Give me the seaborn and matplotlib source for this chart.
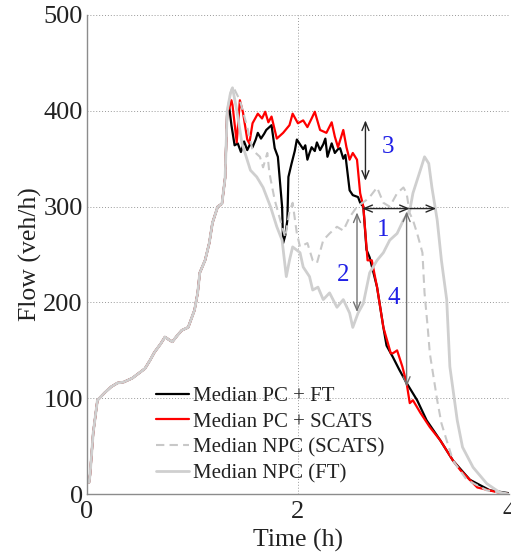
import numpy as np
import pandas as pd
import seaborn as sns
import matplotlib.pyplot as plt

# shared rising part (all four runs coincide until ~1.33 h)
rise_t = [0.02, 0.03, 0.06, 0.10, 0.17, 0.23, 0.29, 0.35, 0.39, 0.43, 0.49, 0.55, 0.60, 0.64,
          0.70, 0.74, 0.78, 0.81, 0.86, 0.90, 0.96, 1.02, 1.05, 1.07, 1.12, 1.16, 1.19, 1.24,
          1.28, 1.31, 1.33]
rise_y = [12, 20, 64, 98, 106, 112, 116, 117, 119, 121, 126, 131, 140, 148,
          157, 164, 161, 159, 166, 171, 174, 192, 210, 231, 244, 262, 283, 300,
          303, 330, 400]

# Median PC + FT
pcft_t = [1.35, 1.37, 1.40, 1.43, 1.46, 1.49, 1.52, 1.55, 1.57, 1.60, 1.62, 1.65, 1.68, 1.70,
          1.73, 1.75, 1.78, 1.81, 1.85, 1.86, 1.88, 1.90, 1.91, 1.94, 1.97, 1.99, 2.02, 2.05,
          2.07, 2.09, 2.11, 2.13, 2.16, 2.18, 2.21, 2.24, 2.26, 2.28, 2.32, 2.35, 2.38, 2.40,
          2.43, 2.45, 2.49, 2.52, 2.57, 2.59, 2.62, 2.65, 2.68, 2.75, 2.81, 2.84, 2.90, 2.96,
          3.03, 3.13, 3.22, 3.35, 3.47, 3.63, 3.82, 4.00]
pcft_y = [403, 385, 364, 366, 357, 368, 359, 366, 362, 370, 377, 371, 376, 380,
          383, 385, 361, 352, 300, 262, 270, 286, 331, 345, 358, 370, 365, 360,
          364, 349, 356, 362, 358, 367, 359, 365, 371, 352, 366, 356, 360, 361,
          350, 354, 317, 312, 310, 304, 300, 255, 247, 216, 174, 155, 143, 130,
          116, 98, 77, 56, 35, 15, 4, 1]

# Median PC + SCATS
pcsc_t = [1.35, 1.37, 1.38, 1.42, 1.45, 1.48, 1.52, 1.54, 1.57, 1.62, 1.66, 1.69, 1.72, 1.75,
          1.80, 1.86, 1.92, 1.95, 2.00, 2.05, 2.09, 2.13, 2.16, 2.21, 2.27, 2.32, 2.35, 2.38,
          2.43, 2.46, 2.49, 2.52, 2.56, 2.59, 2.62, 2.66, 2.70, 2.75, 2.81, 2.88, 2.90, 2.94,
          2.99, 3.03, 3.06, 3.09, 3.16, 3.25, 3.35, 3.47, 3.54, 3.70, 3.89, 4.00]
pcsc_y = [403, 411, 406, 367, 411, 398, 370, 366, 387, 397, 392, 399, 388, 394,
          371, 377, 385, 397, 387, 390, 383, 392, 399, 380, 377, 388, 373, 362,
          380, 362, 349, 356, 349, 314, 300, 244, 244, 216, 174, 147, 147, 150,
          133, 116, 95, 98, 85, 70, 56, 35, 25, 7, 2, 0]

# Median NPC (SCATS)
npcsc_t = [1.36, 1.38, 1.40, 1.45, 1.52, 1.57, 1.64, 1.67, 1.71, 1.73, 1.78, 1.85, 1.88, 1.92,
           1.95, 1.99, 2.02, 2.09, 2.14, 2.18, 2.24, 2.30, 2.37, 2.43, 2.49, 2.56, 2.65, 2.68,
           2.75, 2.81, 2.87, 2.94, 3.00, 3.03, 3.06, 3.09, 3.13, 3.18, 3.20, 3.23, 3.25, 3.32,
           3.36, 3.41, 3.47, 3.60, 3.79, 4.00]
npcsc_y = [418, 425, 422, 411, 383, 359, 352, 341, 356, 335, 307, 279, 268, 295,
           304, 272, 258, 262, 244, 241, 265, 272, 279, 275, 289, 300, 307, 310,
           320, 304, 300, 314, 320, 314, 293, 286, 272, 252, 210, 174, 147, 98,
           74, 56, 35, 15, 4, 0]

# Median NPC (FT)
npcft_t = [1.36, 1.38, 1.42, 1.47, 1.55, 1.61, 1.67, 1.74, 1.80, 1.85, 1.89, 1.92, 1.95, 2.02,
           2.05, 2.11, 2.14, 2.19, 2.24, 2.30, 2.37, 2.43, 2.49, 2.52, 2.57, 2.62, 2.68, 2.75,
           2.81, 2.87, 2.94, 3.00, 3.06, 3.09, 3.16, 3.20, 3.24, 3.27, 3.32, 3.36, 3.41, 3.44,
           3.51, 3.56, 3.66, 3.79, 3.91, 4.00]
npcft_y = [418, 424, 401, 366, 338, 331, 320, 300, 279, 265, 227, 244, 258, 252,
           237, 227, 213, 216, 203, 210, 195, 203, 189, 174, 189, 199, 231, 244,
           252, 265, 272, 286, 296, 314, 338, 352, 345, 320, 286, 244, 203, 133,
           77, 49, 28, 11, 2, 0]

series = [
    ("Median PC + FT", pcft_t, pcft_y, dict(color="black", lw=1.6, ls="-")),
    ("Median PC + SCATS", pcsc_t, pcsc_y, dict(color="#ff0000", lw=1.6, ls="-")),
    ("Median NPC (SCATS)", npcsc_t, npcsc_y, dict(color="#c8c8c8", lw=1.5, ls=(0, (4, 2.5)))),
    ("Median NPC (FT)", npcft_t, npcft_y, dict(color="#cfcfcf", lw=2.0, ls="-")),
]

sns.set_style("white")
plt.rcParams['font.family'] = ['Liberation Serif', 'DejaVu Serif']

fig = plt.figure(figsize=(5.11, 5.54), dpi=100)
ax = fig.add_axes([0.170, 0.108, 0.826, 0.865])

for name, t, y, st in series:
    df = pd.DataFrame({"t": rise_t + t, "flow": rise_y + y})
    sns.lineplot(data=df, x="t", y="flow", ax=ax, label=name, color=st["color"],
                 linewidth=st["lw"], linestyle=st["ls"], estimator=None, sort=False)

ax.set_xlim(0, 4)
ax.set_ylim(0, 500)
ax.set_xticks([0, 2, 4])
ax.set_yticks([0, 100, 200, 300, 400, 500])
ax.grid(True, linestyle=(0, (1, 2)), color="0.6", linewidth=0.7)
ax.set_axisbelow(True)
sns.despine(ax=ax)
for s in ["left", "bottom"]:
    ax.spines[s].set_color("0.55")
    ax.spines[s].set_linewidth(1.0)
ax.tick_params(direction="in", length=3, colors="0.55", labelcolor="#222222", labelsize=19)
ax.tick_params(axis="x", pad=5)
ax.tick_params(axis="y", pad=3)
ax.set_xlabel("Time (h)", fontsize=18.5, color="#222222", labelpad=4)
ax.set_ylabel("Flow (veh/h)", fontsize=18.5, color="#222222", labelpad=1)

# annotations
ap = dict(arrowstyle="<->,head_length=0.6,head_width=0.25", color="0.15", lw=1.0,
          shrinkA=0, shrinkB=0)
ap_grey = dict(ap, color="0.45")
ax.annotate("", xy=(2.61, 298), xytext=(3.06, 298), arrowprops=ap)
ax.annotate("", xy=(3.31, 298), xytext=(3.06, 298),
            arrowprops=dict(ap, arrowstyle="->,head_length=0.6,head_width=0.25"))
ax.annotate("", xy=(2.56, 294), xytext=(2.56, 190), arrowprops=ap_grey)
ax.annotate("", xy=(2.64, 390), xytext=(2.64, 327), arrowprops=ap)
ax.annotate("", xy=(3.03, 295), xytext=(3.03, 112), arrowprops=ap_grey)
lab = dict(color="#2020e6", fontsize=18, ha="center", va="center")
ax.text(2.81, 276, "1", **lab)
ax.text(2.43, 229, "2", **lab)
ax.text(2.85, 362, "3", **lab)
ax.text(2.91, 205, "4", **lab)

leg = ax.legend(loc="lower left", bbox_to_anchor=(0.145, 0.005), frameon=False, fontsize=15,
                handlelength=1.55, handletextpad=0.2, labelspacing=0.3, borderaxespad=0)
for t in leg.get_texts():
    t.set_color("#222222")

fig.savefig("out.png", dpi=100)
